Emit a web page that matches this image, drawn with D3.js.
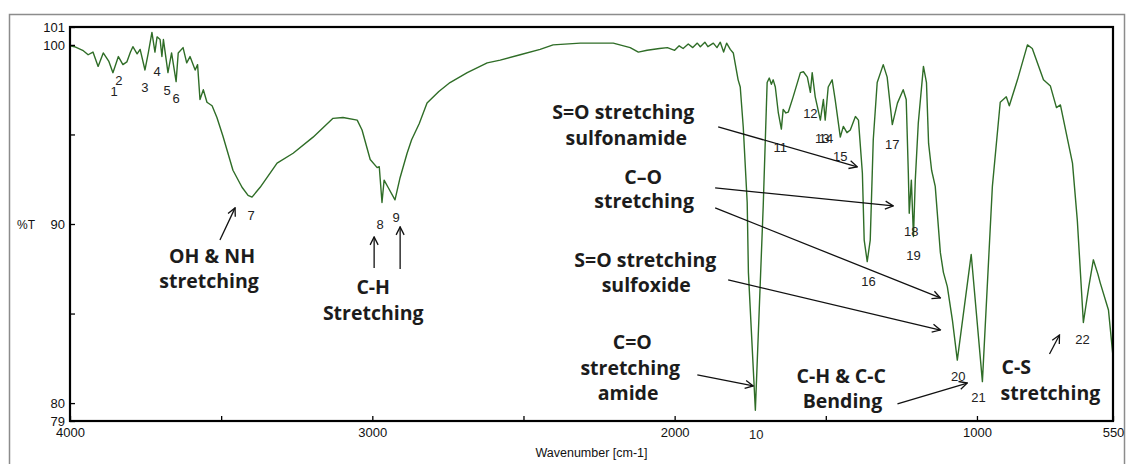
<!DOCTYPE html>
<html>
<head>
<meta charset="utf-8">
<script src="https://cdn.jsdelivr.net/npm/d3@7"></script>
<style>
  body { margin: 0; background: #fff; }
  svg { display: block; font-family: 'Liberation Sans', Arial, sans-serif; }
  .note { font-family: 'Open Sans', sans-serif; font-weight: 700; font-size: 19.5px; fill: #1c1c1c; }
  .peak { font-size: 13px; fill: #222; }
</style>
</head>
<body>
<svg id="chart" width="1128" height="464"></svg>
<script>
// spectrum (wavenumber cm-1 / %T)
var wavenumber = [4000, 3985, 3958, 3940, 3924, 3907, 3890, 3872, 3858, 3840, 3825, 3812, 3800, 3792, 3778, 3768,
  3752, 3741, 3729, 3719, 3712, 3702, 3696, 3691, 3676, 3664, 3649, 3642, 3626, 3614, 3603, 3586, 3578, 3570, 3559,
  3547, 3530, 3514, 3494, 3461, 3431, 3411, 3398, 3371, 3315, 3262, 3196, 3130, 3097, 3050, 3034, 3007, 2984, 2977,
  2968, 2961, 2948, 2925, 2908, 2885, 2870, 2845, 2819, 2780, 2743, 2686, 2620, 2577, 2511, 2445, 2402, 2312, 2203,
  2147, 2120, 2091, 2050, 2024, 2000, 1985, 1972, 1955, 1940, 1925, 1915, 1900, 1890, 1872, 1860, 1849, 1838, 1828,
  1816, 1806, 1790, 1783, 1773, 1760, 1756, 1733, 1707, 1694, 1687, 1680, 1674, 1667, 1657, 1647, 1641, 1632, 1624,
  1608, 1584, 1574, 1561, 1551, 1545, 1535, 1518, 1508, 1502, 1492, 1479, 1469, 1452, 1442, 1430, 1419, 1402, 1392,
  1379, 1373, 1363, 1353, 1343, 1330, 1310, 1297, 1280, 1263, 1244, 1234, 1227, 1224, 1217, 1210, 1204, 1194, 1177,
  1167, 1160, 1150, 1138, 1121, 1111, 1098, 1081, 1065, 1019, 982, 949, 923, 903, 893, 866, 833, 817, 780, 757, 737,
  724, 684, 668, 648, 630, 615, 600, 592, 565, 550]
var transmittance = [99.95, 99.9, 99.7, 99.45, 99.6, 98.8, 99.55, 99.1, 98.45, 99.35, 98.9, 99.05, 99.6, 99.9, 99.5, 99.75,
  98.6, 99.55, 100.7, 99.6, 100.45, 100.3, 99.35, 100.3, 98.45, 99.55, 97.95, 99.55, 99.85, 99.0, 99.35, 98.6, 98.9, 96.95, 97.5,
  96.8, 96.6, 95.95, 94.9, 93.0, 92.05, 91.6, 91.5, 92.05, 93.4, 93.95, 94.85, 95.9, 95.95, 95.8, 95.25, 93.6, 93.15, 93.2,
  91.2, 92.45, 92.05, 91.35, 92.6, 93.95, 94.7, 95.6, 96.75, 97.4, 97.9, 98.45, 99.0, 99.15, 99.45, 99.75, 100.0, 100.1, 100.1,
  99.85, 99.6, 99.7, 99.8, 99.85, 99.7, 99.95, 99.8, 100.05, 99.85, 100.1, 99.9, 100.15, 99.9, 100.1, 99.85, 100.15, 99.6, 100.1,
  99.75, 99.55, 98.05, 97.65, 95.4, 91.2, 87.3, 79.6, 91.0, 97.9, 98.15, 97.8, 98.05, 97.65, 96.2, 95.3, 96.4, 96.2, 96.25,
  97.1, 98.45, 98.5, 98.2, 97.35, 98.45, 97.1, 95.8, 96.95, 95.8, 97.65, 98.05, 96.95, 94.85, 95.45, 95.1, 95.25, 96.0, 95.8,
  92.85, 89.1, 87.9, 89.1, 94.7, 97.9, 98.9, 98.2, 95.55, 96.75, 97.5, 96.95, 92.85, 90.6, 92.45, 89.3, 92.45, 95.65, 98.8,
  97.9, 94.5, 93.0, 92.1, 88.4, 87.3, 86.5, 84.6, 82.4, 88.3, 81.2, 92.1, 96.8, 97.1, 96.6, 98.05, 100.0, 99.8, 98.05, 97.7, 96.5,
  96.65, 93.4, 90.2, 84.5, 86.5, 88.0, 87.2, 86.7, 85.2, 82.6]

// axis ticks
var xTicks = [4000, 3500, 3000, 2500, 2000, 1500, 1000, 550]
var xTickLabels = ['4000', '', '3000', '', '2000', '', '1000', '550']
var yTicks = [79, 80, 85, 90, 95, 100, 101]
var yTickLabels = ['79', '80', '', '90', '', '100', '101']

// numbered peaks (label anchor in wavenumber / %T)
var peakNames = ['1', '2', '3', '4', '5', '6', '7', '8', '9', '10', '11', '12', '13', '14', '15', '16', '17', '18', '19', '20', '21', '22']
var peakW = [3854, 3838, 3752, 3712, 3679, 3649, 3401, 2974, 2921, 1730, 1651, 1551, 1512, 1499, 1452, 1359, 1280, 1217, 1210, 1062, 995, 651]
var peakT = [97.4, 98.0, 97.6, 98.5, 97.44, 97.0, 90.5, 89.95, 90.34, 78.25, 94.25, 96.2, 94.8, 94.8, 93.75, 86.77, 94.42, 89.56, 88.22, 81.46, 80.29, 83.53]

// band assignments (text baseline in wavenumber / %T)
var noteText = ['OH & NH', 'stretching', 'C-H', 'Stretching', 'S=O stretching', 'sulfonamide', 'C\u2013O', 'stretching',
  'S=O stretching', 'sulfoxide', 'C=O', 'stretching', 'amide', 'C-H & C-C', 'Bending', 'C-S', 'stretching']
var noteW = [3530, 3540, 2997, 2997, 2170, 2160, 2104, 2101, 2097, 2094, 2140, 2147, 2154, 1449, 1445, 870, 757]
var noteT = [87.85, 86.45, 86.08, 84.62, 95.85, 94.4, 92.25, 90.88, 87.62, 86.2, 83.0, 81.57, 80.2, 81.14, 79.72, 81.6, 80.15]

// arrows from note to band
var arrowFromW = [3504, 2994, 2908, 1856, 1866, 1866, 1823, 1925, 1263, 760]
var arrowFromT = [89.11, 87.55, 87.49, 95.43, 92.02, 90.9, 86.88, 81.57, 79.95, 82.74]
var arrowToW = [3454, 2994, 2908, 1396, 1277, 1121, 1121, 1740, 1032, 727]
var arrowToT = [90.9, 89.28, 89.84, 93.19, 91.01, 85.87, 84.08, 80.96, 81.12, 83.8]

/*
    --------------------------------------
    Common configurations
*/
var width = 1128
var height = 464
var margin = {top: 27, right: 15, bottom: 43, left: 70}

var svg = d3.select('#chart')

var mapx = d3.scaleLinear()
    .domain([4000, 550])
    .range([margin.left, width - margin.right])

var mapy = d3.scaleLinear()
    .domain([79, 101])
    .range([height - margin.bottom, margin.top])

// outer grey frame of the figure
svg.append('rect')
    .attr('x', 9.5).attr('y', 14.5)
    .attr('width', 1115).attr('height', 470)
    .attr('fill', 'none')
    .attr('stroke', '#8c8c8c')
    .attr('stroke-width', 1.5)

/*
    --------------------------------------
    Spectrum
*/
var points = wavenumber.map((w, i) => [w, transmittance[i]])

var line = d3.line()
    .x(d => mapx(d[0]))
    .y(d => mapy(d[1]))

svg.append('path')
    .datum(points)
    .attr('d', line)
    .attr('fill', 'none')
    .attr('stroke', '#2f6d27')
    .attr('stroke-width', 1.4)
    .attr('stroke-linejoin', 'round')

/*
    --------------------------------------
    Axes and frame
*/
var xAxis = d3.axisBottom(mapx)
    .tickValues(xTicks)
    .tickSizeInner(-5)
    .tickSizeOuter(0)
    .tickPadding(7)
    .tickFormat((d, i) => xTickLabels[i])

var gx = svg.append('g')
    .attr('transform', `translate(0,${mapy(79)})`)
    .call(xAxis)

var yAxis = d3.axisLeft(mapy)
    .tickValues(yTicks)
    .tickSizeInner(-5)
    .tickSizeOuter(0)
    .tickPadding(5)
    .tickFormat((d, i) => yTickLabels[i])

var gy = svg.append('g')
    .attr('transform', `translate(${mapx(4000)},0)`)
    .call(yAxis)

;[gx, gy].forEach(function (g) {
  g.selectAll('text')
      .attr('font-family', "'Liberation Sans', Arial, sans-serif")
      .attr('font-size', 13)
      .attr('fill', '#111')
  g.selectAll('line').attr('stroke', '#000').attr('stroke-width', 1.3)
  g.select('.domain').remove()
})

svg.append('rect')
    .attr('x', mapx(4000)).attr('y', mapy(101))
    .attr('width', mapx(550) - mapx(4000))
    .attr('height', mapy(79) - mapy(101))
    .attr('fill', 'none')
    .attr('stroke', '#000')
    .attr('stroke-width', 2.2)

svg.append('text')
    .attr('x', (mapx(4000) + mapx(550)) / 2)
    .attr('y', 457)
    .attr('text-anchor', 'middle')
    .attr('font-size', 12.5)
    .attr('fill', '#111')
    .text('Wavenumber [cm-1]')

svg.append('text')
    .attr('x', 17)
    .attr('y', mapy(90) + 5)
    .attr('font-size', 12)
    .attr('fill', '#111')
    .text('%T')

/*
    --------------------------------------
    Peak numbers
*/
svg.append('g').selectAll('text')
    .data(peakNames)
    .join('text')
    .classed('peak', true)
    .attr('x', (d, i) => mapx(peakW[i]))
    .attr('y', (d, i) => mapy(peakT[i]))
    .attr('dy', '0.35em')
    .attr('text-anchor', 'middle')
    .text(d => d)

/*
    --------------------------------------
    Assignments and arrows
*/
svg.append('defs').append('marker')
    .attr('id', 'head')
    .attr('viewBox', '0 0 10 10')
    .attr('refX', 9).attr('refY', 5)
    .attr('markerWidth', 10).attr('markerHeight', 10)
    .attr('markerUnits', 'userSpaceOnUse')
    .attr('orient', 'auto')
    .append('path')
    .attr('d', 'M1,1 L9,5 L1,9')
    .attr('fill', 'none')
    .attr('stroke', '#111')
    .attr('stroke-width', 1.3)

svg.append('g').selectAll('line')
    .data(arrowFromW)
    .join('line')
    .attr('x1', (d, i) => mapx(d))
    .attr('y1', (d, i) => mapy(arrowFromT[i]))
    .attr('x2', (d, i) => mapx(arrowToW[i]))
    .attr('y2', (d, i) => mapy(arrowToT[i]))
    .attr('stroke', '#111')
    .attr('stroke-width', 1.3)
    .attr('marker-end', 'url(#head)')

svg.append('g').selectAll('text')
    .data(noteText)
    .join('text')
    .classed('note', true)
    .attr('x', (d, i) => mapx(noteW[i]))
    .attr('y', (d, i) => mapy(noteT[i]))
    .attr('text-anchor', 'middle')
    .text(d => d)
</script>
</body>
</html>
